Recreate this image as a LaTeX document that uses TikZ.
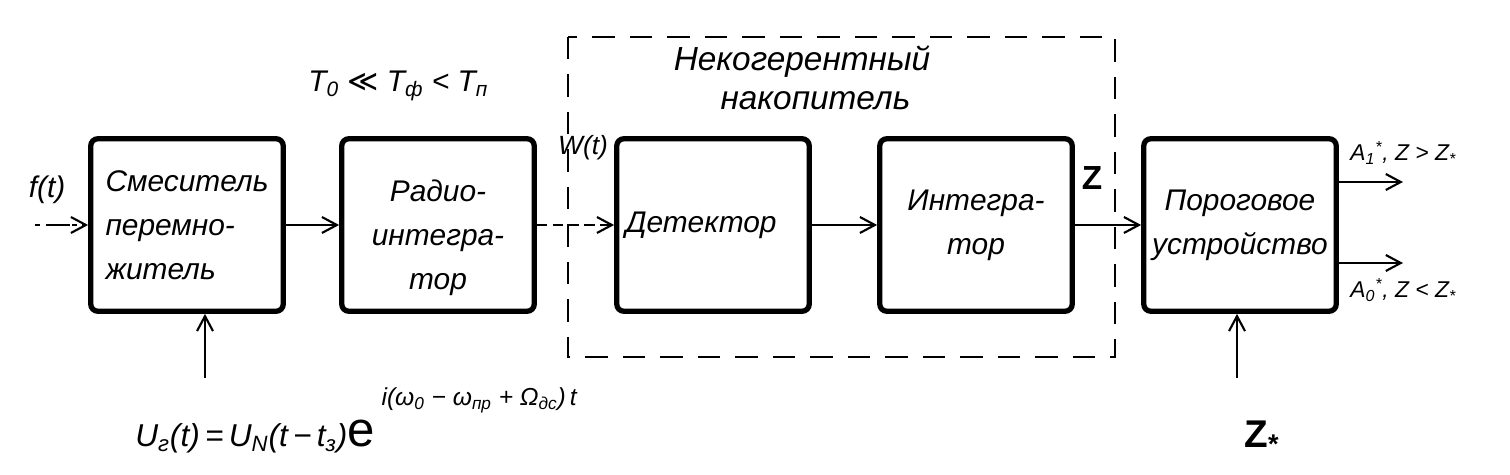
\documentclass[tikz,border=0pt]{standalone}
\usepackage{fontspec}
\setmainfont{Liberation Sans}
\newfontfamily\symfont{DejaVu Sans}
\usetikzlibrary{arrows.meta}
\begin{document}
\begin{tikzpicture}[x=0.02cm,y=-0.02cm,
  blk/.style={draw, line width=3pt, rounded corners=4pt, minimum width=3.85cm, minimum height=3.45cm,
    align=center, font=\itshape\fontsize{17}{25}\selectfont, inner sep=4pt},
  arr/.style={line width=1pt, -{Straight Barb[length=3mm,width=3.2mm,line width=1.2pt]}},
  lbl/.style={font=\itshape\fontsize{17}{22}\selectfont, inner sep=0pt},
  small/.style={font=\itshape\fontsize{13}{16}\selectfont, inner sep=0pt}]
\useasboundingbox (0,0) rectangle (1510,475);
% dashed group
\draw[line width=1.4pt, dash pattern=on 0.45cm off 0.3cm] (568,37) rectangle (1115,357);
\node[font=\itshape\fontsize{19}{24}\selectfont, inner sep=0pt, align=left] (grp) at (802,78) {Некогерентный\\[-2pt]\hspace*{1.4em}накопитель};
% blocks
\node[blk, align=left] (mix) at (187,225) {Смеситель\\перемно-\\житель};
\node[blk] (rad) at (438,225) {\rule{0pt}{1.6em}Радио-\\интегра-\\тор};
\node[blk] (det) at (713,225) {Детектор\hspace*{0.8em}};
\node[blk] (int) at (976,225) {Интегра-\\тор};
\node[blk] (thr) at (1240,225) {Пороговое\\устройство};
% inputs / connectors
\coordinate (fin) at (35,225);
\draw[arr, dash pattern=on 3pt off 3pt on 14pt off 1pt] (fin) -- (mix.west);
\node[lbl] (ft) at (47,190) {f(t)};
\draw[arr] (mix.east) -- (rad.west);
\draw[arr, dash pattern=on 6pt off 3pt] (rad.east) -- (det.west);
\node[font=\itshape\fontsize{15}{18}\selectfont, inner sep=0pt] (wt) at (583,148) {W(t)};
\draw[arr] (det.east) -- (int.west);
\draw[arr] (int.east) -- (thr.west);
\node[font=\bfseries\fontsize{19}{22}\selectfont, inner sep=0pt] (z) at (1092,178) {Z};
% outputs
\coordinate (o1) at (1403,182);
\coordinate (o0) at (1403,263);
\draw[arr] (thr.east |- o1) -- (o1);
\draw[arr] (thr.east |- o0) -- (o0);
\node[small, anchor=west] (a1) at (1350,153) {A\textsubscript{1}\textsuperscript{*}, Z > Z\textsubscript{*}};
\node[small, anchor=west] (a0) at (1350,290) {A\textsubscript{0}\textsuperscript{*}, Z < Z\textsubscript{*}};
% bottom inputs
\coordinate (u1) at (205,378);
\draw[arr] (u1) -- (u1 |- mix.south);
\coordinate (u2) at (1237,378);
\draw[arr] (u2) -- (u2 |- thr.south);
\node[font=\bfseries\fontsize{22}{24}\selectfont, inner sep=0pt] (zs) at (1262,437) {Z\textsubscript{*}};
% labels
\node[lbl, anchor=west] (tt) at (308,86) {T\textsubscript{0} {\symfont\upshape ≪} T\textsubscript{ф} < T\textsubscript{п}};
\node[font=\itshape\fontsize{18}{22}\selectfont, inner sep=0pt, anchor=base west] (ur) at (135,447)
  {U\textsubscript{г}(t)\,=\,U\textsubscript{N}(t\,−\,t\textsubscript{з}){\upshape\fontsize{28}{30}\selectfont e}\raisebox{1.3em}{\fontsize{14}{16}\selectfont\ i(ω\textsubscript{0} − ω\textsubscript{пр} + Ω\textsubscript{дс})\,t}};
\end{tikzpicture}
\end{document}
